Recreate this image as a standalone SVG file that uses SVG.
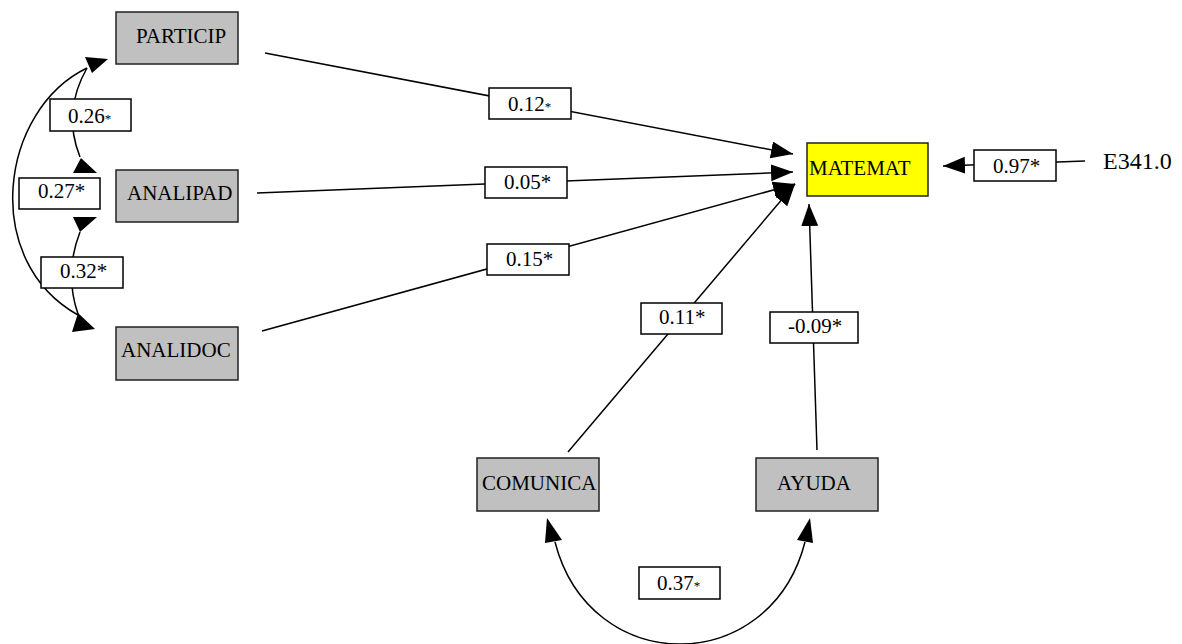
<svg xmlns="http://www.w3.org/2000/svg" width="1182" height="644" viewBox="0 0 1182 644">
  <style>
    .node { fill: #c0c0c0; stroke: #222; stroke-width: 1.5; }
    .dep { fill: #ffff00; stroke: #222; stroke-width: 1.5; }
    .lbl { fill: #ffffff; stroke: #000; stroke-width: 1.5; }
    .txt { font-family: "Liberation Serif", "Times New Roman", serif; font-size: 21px; fill: #000; }
    .err { font-size: 24px; }
    .star { font-size: 13px; }
    .edge { fill: none; stroke: #000; stroke-width: 1.5; }
    .head { fill: #000; stroke: none; }
  </style>
  <defs>
    <marker id="arrow" markerUnits="userSpaceOnUse" markerWidth="23" markerHeight="18" refX="22" refY="8.5" orient="auto">
      <path d="M0,0 L22,8.5 L0,17 z" fill="#000"/>
    </marker>
  </defs>

  <rect width="1182" height="644" fill="#ffffff"/>

  <!-- connectors -->
  <g id="connectors">
    <!-- regression paths into MATEMAT -->
    <line class="edge" x1="265" y1="53" x2="793" y2="154" marker-end="url(#arrow)"/>
    <line class="edge" x1="257" y1="193" x2="793" y2="172" marker-end="url(#arrow)"/>
    <line class="edge" x1="262" y1="331" x2="795" y2="184" marker-end="url(#arrow)"/>
    <line class="edge" x1="568" y1="452" x2="795" y2="184" marker-end="url(#arrow)"/>
    <line class="edge" x1="817" y1="450" x2="809" y2="204" marker-end="url(#arrow)"/>
    <!-- disturbance term -->
    <line class="edge" x1="1085" y1="161" x2="943" y2="166" marker-end="url(#arrow)"/>

    <!-- covariances among predictors -->
    <path class="edge" d="M87,68 Q62,112 80,157"/>
    <path class="edge" d="M87,68 C0,110 -20,260 78,315"/>
    <path class="edge" d="M80,232 Q64,273 78,314"/>
    <path class="edge" d="M555,542 C590,678 770,678 805,542"/>

    <polygon class="head" points="85,57 108,59 92,73"/>
    <polygon class="head" points="81,158 73,173 97,173"/>
    <polygon class="head" points="73,217 97,217 80,232"/>
    <polygon class="head" points="78,313 72,332 95,329"/>
    <polygon class="head" points="547,518 545,543 562,540"/>
    <polygon class="head" points="810,518 797,540 813,543"/>

    <!-- coefficient labels -->
    <g id="lbl-particip">
      <rect class="lbl" x="489" y="88" width="82" height="31"/>
      <text class="txt" x="508" y="111">0.12<tspan class="star">*</tspan></text>
    </g>
    <g id="lbl-analipad">
      <rect class="lbl" x="485" y="167" width="82" height="31"/>
      <text class="txt" x="504" y="189">0.05*</text>
    </g>
    <g id="lbl-analidoc">
      <rect class="lbl" x="487" y="244" width="82" height="31"/>
      <text class="txt" x="506" y="266">0.15*</text>
    </g>
    <g id="lbl-comunica">
      <rect class="lbl" x="641" y="303" width="81" height="31"/>
      <text class="txt" x="659" y="324">0.11*</text>
    </g>
    <g id="lbl-ayuda">
      <rect class="lbl" x="770" y="312" width="88" height="31"/>
      <text class="txt" x="788" y="333">-0.09*</text>
    </g>
    <g id="lbl-error">
      <rect class="lbl" x="974" y="150" width="82" height="31"/>
      <text class="txt" x="993" y="173">0.97*</text>
    </g>
    <g id="lbl-cov-pp">
      <rect class="lbl" x="50" y="99" width="81" height="32"/>
      <text class="txt" x="68" y="123">0.26<tspan class="star">*</tspan></text>
    </g>
    <g id="lbl-cov-pd">
      <rect class="lbl" x="19" y="178" width="81" height="31"/>
      <text class="txt" x="38" y="198">0.27*</text>
    </g>
    <g id="lbl-cov-ad">
      <rect class="lbl" x="41" y="257" width="82" height="31"/>
      <text class="txt" x="60" y="278">0.32*</text>
    </g>
    <g id="lbl-cov-ca">
      <rect class="lbl" x="639" y="567" width="81" height="32"/>
      <text class="txt" x="657" y="590">0.37<tspan class="star">*</tspan></text>
    </g>
  </g>

  <!-- nodes -->
  <g id="particip">
    <rect class="node" x="116" y="12" width="122" height="52"/>
    <text class="txt" x="136" y="43">PARTICIP</text>
  </g>
  <g id="analipad">
    <rect class="node" x="116" y="170" width="122" height="52"/>
    <text class="txt" x="127" y="200">ANALIPAD</text>
  </g>
  <g id="analidoc">
    <rect class="node" x="116" y="327" width="122" height="53"/>
    <text class="txt" x="121" y="357">ANALIDOC</text>
  </g>
  <g id="matemat">
    <rect class="dep" x="807" y="143" width="121" height="53"/>
    <text class="txt" x="809" y="175">MATEMAT</text>
  </g>
  <g id="comunica">
    <rect class="node" x="477" y="458" width="122" height="53"/>
    <text class="txt" x="482" y="490">COMUNICA</text>
  </g>
  <g id="ayuda">
    <rect class="node" x="756" y="458" width="122" height="53"/>
    <text class="txt" x="777" y="490">AYUDA</text>
  </g>
  <g id="e341">
    <text class="txt err" x="1103" y="169">E341.0</text>
  </g>
</svg>
